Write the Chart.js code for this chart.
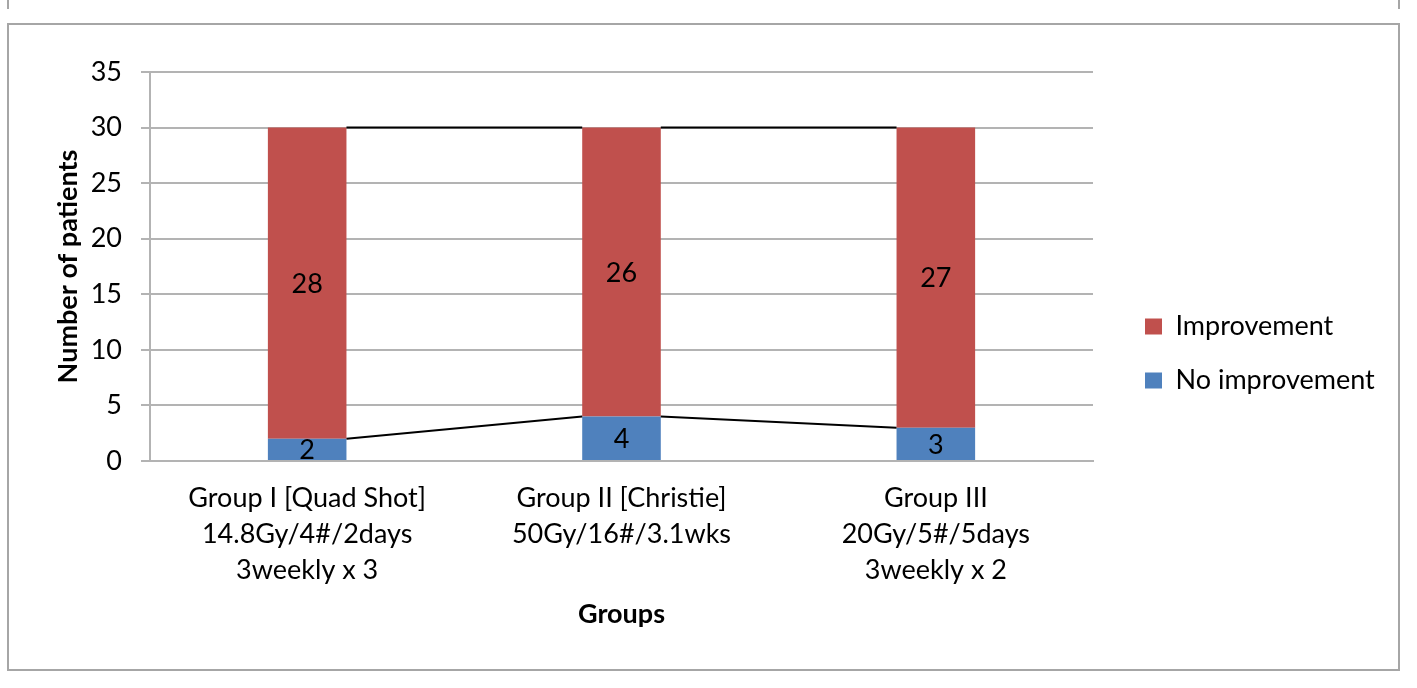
<!DOCTYPE html>
<html>
<head>
<meta charset="utf-8">
<script src="https://cdn.jsdelivr.net/npm/chart.js@4.4.0/dist/chart.umd.min.js"></script>
<style>
    body { margin: 0; background: #fff; width: 1417px; height: 688px; position: relative; overflow: hidden; }
    .stub { position: absolute; left: 7px; top: 0; width: 1389px; height: 9px; border-left: 2px solid #a6a6a6; border-right: 2px solid #a6a6a6; }
    .frame { position: absolute; left: 7px; top: 23px; width: 1389px; height: 644px; border: 2px solid #a6a6a6; }
    canvas { display: block; }
</style>
</head>
<body>
<div class="stub"></div>
<div class="frame"><canvas id="barChart" width="1389" height="644"></canvas></div>
<script>
const groups = [
    ["Group I [Quad Shot]", "14.8Gy/4#/2days", "3weekly x 3"],
    ["Group II [Christie]", "50Gy/16#/3.1wks"],
    ["Group III", "20Gy/5#/5days", "3weekly x 2"],
];
const noImprovement = [2, 4, 3];
const improvement = [28, 26, 27];
const yTicks = [0, 5, 10, 15, 20, 25, 30, 35];

const FONT = "Lato";
const SIZE = 27;

// excel style series lines between stacked bars
const seriesLines = {
    id: "seriesLines",
    afterDatasetsDraw(chart) {
        const ctx = chart.ctx;
        ctx.save();
        ctx.strokeStyle = "#000";
        ctx.lineWidth = 2;
        chart.data.datasets.forEach((ds, d) => {
            const bars = chart.getDatasetMeta(d).data;
            for (let i = 0; i < bars.length - 1; i++) {
                const a = bars[i], b = bars[i + 1];
                ctx.beginPath();
                ctx.moveTo(a.x + a.width / 2, a.y);
                ctx.lineTo(b.x - b.width / 2, b.y);
                ctx.stroke();
            }
        });
        ctx.restore();
    },
};

const valueLabels = {
    id: "valueLabels",
    afterDatasetsDraw(chart) {
        const ctx = chart.ctx;
        ctx.save();
        ctx.fillStyle = "#000";
        ctx.font = SIZE + "px " + FONT;
        ctx.textAlign = "center";
        ctx.textBaseline = "middle";
        chart.data.datasets.forEach((ds, d) => {
            chart.getDatasetMeta(d).data.forEach((bar, i) => {
                ctx.fillText(String(ds.data[i]), bar.x, (bar.y + bar.base) / 2 + 1);
            });
        });
        ctx.restore();
    },
};

// pin the legend box width and nudge it like the excel original
const legendPlace = {
    id: "legendPlace",
    afterInit(chart) {
        const lg = chart.legend;
        const fit = lg.fit;
        lg.fit = function () {
            fit.call(this);
            this.width = 305;
        };
    },
    afterLayout(chart) {
        const lg = chart.legend;
        lg.left += 25;
        lg.right += 25;
        lg.top -= 17;
        lg.bottom -= 17;
    },
};

new Chart(document.getElementById("barChart").getContext("2d"), {
    type: "bar",
    data: {
        labels: groups,
        datasets: [
            {
                label: "No improvement",
                data: noImprovement,
                backgroundColor: "#4F81BD",
                barPercentage: 0.25,
                categoryPercentage: 1,
            },
            {
                label: "Improvement",
                data: improvement,
                backgroundColor: "#C0504D",
                barPercentage: 0.25,
                categoryPercentage: 1,
            },
        ],
    },
    options: {
        responsive: false,
        animation: false,
        layout: { padding: { top: 47, right: 0, bottom: 0, left: 0 } },
        plugins: {
            tooltip: { enabled: false },
            legend: {
                position: "right",
                reverse: true,
                labels: {
                    color: "#000",
                    font: { family: FONT, size: SIZE },
                    boxWidth: 17,
                    boxHeight: 16,
                    padding: 27,
                },
            },
        },
        scales: {
            x: {
                stacked: true,
                grid: { display: false },
                border: { display: true, color: "#b3b3b3", width: 2 },
                ticks: {
                    color: "#000",
                    font: { family: FONT, size: SIZE, lineHeight: 36 / SIZE },
                    padding: 11,
                    maxRotation: 0,
                    autoSkip: false,
                },
                title: {
                    display: true,
                    text: "Groups",
                    color: "#000",
                    font: { family: FONT, size: SIZE, weight: "bold" },
                    padding: { top: 39, bottom: 39 },
                },
                afterFit(scale) { scale.height = 208; },
            },
            y: {
                stacked: true,
                min: 0,
                max: 35,
                afterBuildTicks(scale) { scale.ticks = yTicks.map((v) => ({ value: v })); },
                grid: { color: "#b3b3b3", lineWidth: 2, tickLength: 9 },
                border: { display: true, color: "#b3b3b3", width: 2 },
                ticks: {
                    color: "#000",
                    font: { family: FONT, size: SIZE },
                    padding: 19,
                },
                title: {
                    display: true,
                    text: "Number of patients",
                    color: "#000",
                    font: { family: FONT, size: SIZE, weight: "bold" },
                    padding: { top: 43, bottom: 43 },
                },
                afterFit(scale) { scale.width = 141; },
            },
        },
    },
    plugins: [seriesLines, valueLabels, legendPlace],
});
</script>
</body>
</html>
